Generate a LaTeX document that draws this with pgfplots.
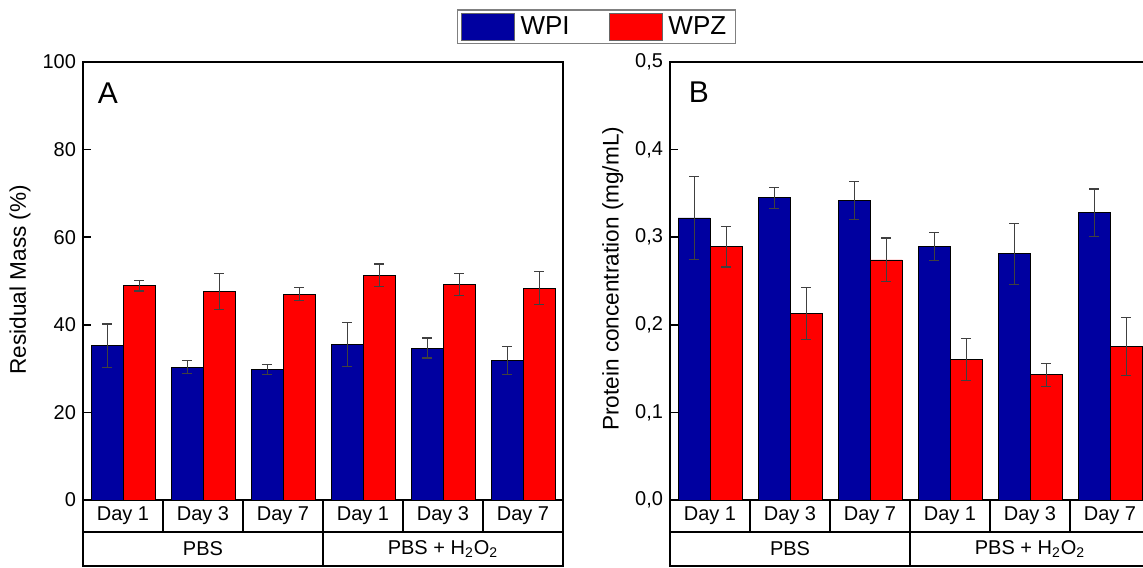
\documentclass[border=0pt]{standalone}
\usepackage{fontspec}
\setmainfont{Liberation Sans}
\usepackage{pgfplots}
\pgfplotsset{compat=1.18}
\definecolor{wpi}{RGB}{0,0,160}
\definecolor{wpz}{RGB}{255,0,0}

\pgfplotsset{
  panel/.style={
    scale only axis, width=240pt, height=219pt,
    xmin=0, xmax=6, ymin=0,
    ybar=0pt, bar width=16pt,
    xtick=\empty,
    ytick pos=left, tick align=inside, major tick length=4pt,
    axis line style={line width=0.8pt},
    every tick/.style={line width=0.8pt, black},
    clip=false,
    tick label style={font=\fontsize{10}{12}\selectfont},
    label style={font=\fontsize{11.3}{13}\selectfont},
    /pgf/number format/assume math mode=true,
    every axis plot post/.append style={
      legend image code/.code={\draw[##1, draw=black!60] (0pt,-6.75pt) rectangle (26.5pt,6.75pt);}
    },
  },
  wpibar/.style={fill=wpi, draw=black, line width=0.4pt,
    error bars/.cd, y dir=both, y explicit,
    error bar style={line width=0.5pt, black!75},
    error mark options={rotate=90, mark size=2.5pt, line width=0.6pt, black!75}},
  wpzbar/.style={fill=wpz, draw=black, line width=0.4pt,
    error bars/.cd, y dir=both, y explicit,
    error bar style={line width=0.5pt, black!75},
    error mark options={rotate=90, mark size=2.5pt, line width=0.6pt, black!75}},
}

\newcommand{\catfont}{\fontsize{10}{12}\selectfont}
\newcommand{\cattable}{%
  \draw[line width=0.6pt] (rel axis cs:0,0) -- (rel axis cs:0,-0.1507) -- (rel axis cs:1,-0.1507) -- (rel axis cs:1,0);
  \draw[line width=0.6pt] (rel axis cs:0,-0.0731) -- (rel axis cs:1,-0.0731);
  \draw[line width=0.6pt] (rel axis cs:0.16667,0) -- (rel axis cs:0.16667,-0.0731);
  \draw[line width=0.6pt] (rel axis cs:0.33333,0) -- (rel axis cs:0.33333,-0.0731);
  \draw[line width=0.6pt] (rel axis cs:0.66667,0) -- (rel axis cs:0.66667,-0.0731);
  \draw[line width=0.6pt] (rel axis cs:0.83333,0) -- (rel axis cs:0.83333,-0.0731);
  \draw[line width=0.6pt] (rel axis cs:0.5,0) -- (rel axis cs:0.5,-0.1507);
  \node[font=\catfont] at (rel axis cs:0.08333,-0.0365) {Day 1};
  \node[font=\catfont] at (rel axis cs:0.25,-0.0365) {Day 3};
  \node[font=\catfont] at (rel axis cs:0.41667,-0.0365) {Day 7};
  \node[font=\catfont] at (rel axis cs:0.58333,-0.0365) {Day 1};
  \node[font=\catfont] at (rel axis cs:0.75,-0.0365) {Day 3};
  \node[font=\catfont] at (rel axis cs:0.91667,-0.0365) {Day 7};
  \node[font=\catfont] at (rel axis cs:0.25,-0.1119) {PBS};
  \node[font=\catfont] at (rel axis cs:0.75,-0.1119) {PBS + H\textsubscript{2}O\textsubscript{2}};
}

\begin{document}
\begin{tikzpicture}
\begin{axis}[panel,
  at={(41.5pt,33.5pt)}, anchor=south west,
  ymax=100, ytick={0,20,40,60,80,100},
  ylabel={Residual Mass (\%)},
  ylabel style={at={(rel axis cs:-0.131,0.503)}, anchor=center},
  legend columns=2,
  legend style={at={(rel axis cs:1.0698,1.08)}, anchor=center,
    draw=black!50, line width=0.6pt, inner sep=1.5pt,
    font=\fontsize{13}{15}\selectfont,
    nodes={inner xsep=3pt, inner ysep=0pt},
    /tikz/every even column/.style={column sep=16.5pt}},
]
\addplot[wpibar] coordinates {
  (0.5,35.2) +- (0,5.0)
  (1.5,30.3) +- (0,1.5)
  (2.5,29.8) +- (0,1.2)
  (3.5,35.5) +- (0,5.0)
  (4.5,34.7) +- (0,2.3)
  (5.5,31.8) +- (0,3.2)
};
\addplot[wpzbar] coordinates {
  (0.5,48.9) +- (0,1.2)
  (1.5,47.6) +- (0,4.1)
  (2.5,47.0) +- (0,1.5)
  (3.5,51.3) +- (0,2.6)
  (4.5,49.2) +- (0,2.5)
  (5.5,48.4) +- (0,3.8)
};
\legend{WPI,WPZ}
\node[font=\fontsize{15}{17}\selectfont] at (rel axis cs:0.052,0.929) {A};
\cattable
\end{axis}

\begin{axis}[panel,
  at={(335pt,33.5pt)}, anchor=south west,
  ymax=0.5, ytick={0,0.1,0.2,0.3,0.4,0.5},
  yticklabel style={/pgf/number format/.cd, fixed, fixed zerofill, precision=1, use comma},
  ylabel={Protein concentration (mg/mL)},
  ylabel style={at={(rel axis cs:-0.119,0.505)}, anchor=center},
]
\addplot[wpibar] coordinates {
  (0.5,0.322) +- (0,0.047)
  (1.5,0.345) +- (0,0.012)
  (2.5,0.342) +- (0,0.022)
  (3.5,0.289) +- (0,0.016)
  (4.5,0.281) +- (0,0.035)
  (5.5,0.328) +- (0,0.027)
};
\addplot[wpzbar] coordinates {
  (0.5,0.289) +- (0,0.023)
  (1.5,0.213) +- (0,0.030)
  (2.5,0.274) +- (0,0.025)
  (3.5,0.160) +- (0,0.024)
  (4.5,0.143) +- (0,0.013)
  (5.5,0.175) +- (0,0.033)
};
\node[font=\fontsize{15}{17}\selectfont] at (rel axis cs:0.060,0.931) {B};
\cattable
\end{axis}
\pgfresetboundingbox
\path[use as bounding box] (0,0) rectangle (571.5pt,283.5pt);
\end{tikzpicture}
\end{document}
